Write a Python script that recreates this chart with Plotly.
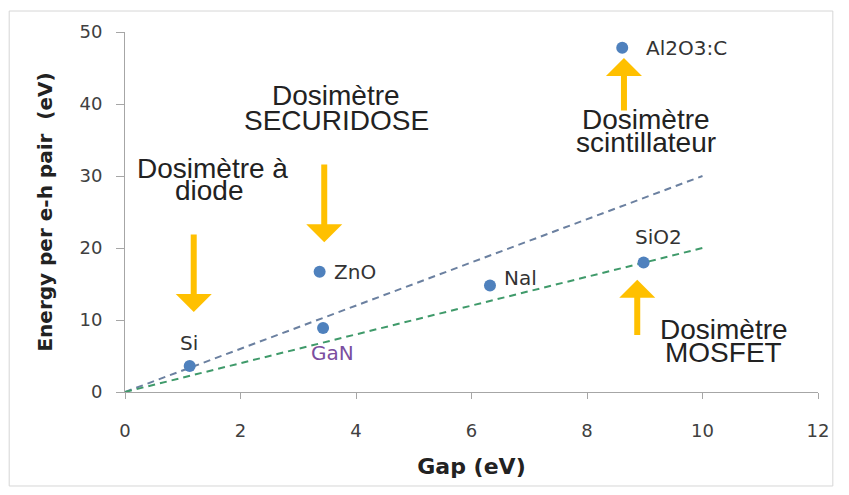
import plotly.graph_objects as go

# Data points (gap, energy per e-h pair)
materials = ["Si", "GaN", "ZnO", "NaI", "SiO2", "Al2O3:C"]
gap = [1.12, 3.43, 3.37, 6.32, 8.98, 8.61]
energy = [3.6, 8.9, 16.7, 14.8, 18.0, 47.8]

# Trend lines
trend_x = [0, 10]
trend_blue_y = [0, 30]
trend_green_y = [0, 20]

# Point labels
label_text = ["Si", "GaN", "ZnO", "Nal", "SiO2", "Al2O3:C"]
label_x = [1.11, 3.6, 3.99, 6.85, 9.23, 9.73]
label_y = [6.8, 5.4, 16.6, 15.9, 21.5, 47.8]
label_color = ["#333333", "#7b4ea0", "#333333", "#333333", "#333333", "#333333"]

# Dosimeter annotation lines
dosi_text = ["Dosimètre à", "diode",
             "Dosimètre", "SECURIDOSE",
             "Dosimètre", "scintillateur",
             "Dosimètre", "MOSFET"]
dosi_x = [1.51, 1.47, 3.65, 3.66, 9.03, 9.03, 10.37, 10.37]
dosi_y = [31.0, 28.0, 41.2, 37.7, 37.8, 34.7, 8.75, 5.5]

# Arrows (tail -> head)
arrow_tail_x = [1.19, 3.45, 8.64, 8.87]
arrow_tail_y = [22.1, 31.8, 38.9, 7.7]
arrow_head_x = [1.19, 3.45, 8.64, 8.87]
arrow_head_y = [11.1, 20.8, 46.4, 15.6]

x_ticks = [0, 2, 4, 6, 8, 10, 12]
y_ticks = [0, 10, 20, 30, 40, 50]

fig = go.Figure()
fig.add_trace(go.Scatter(x=trend_x, y=trend_blue_y, mode="lines",
                         line=dict(color="#6b80a0", width=2, dash="7px,5px"),
                         hoverinfo="skip"))
fig.add_trace(go.Scatter(x=trend_x, y=trend_green_y, mode="lines",
                         line=dict(color="#3f9a6a", width=2, dash="7px,5px"),
                         hoverinfo="skip"))
fig.add_trace(go.Scatter(x=gap, y=energy, mode="markers", text=materials,
                         marker=dict(color="#4f81bd", size=12)))

annotations = []
for t, x, y, c in zip(label_text, label_x, label_y, label_color):
    annotations.append(dict(x=x, y=y, text=t, showarrow=False,
                            font=dict(family="DejaVu Sans", size=20, color=c)))
for t, x, y in zip(dosi_text, dosi_x, dosi_y):
    annotations.append(dict(x=x, y=y, text=t, showarrow=False,
                            font=dict(family="Liberation Sans", size=28, color="#222222")))
for tx, ty, hx, hy in zip(arrow_tail_x, arrow_tail_y, arrow_head_x, arrow_head_y):
    annotations.append(dict(x=hx, y=hy, ax=tx, ay=ty, axref="x", ayref="y",
                            xref="x", yref="y", text="", showarrow=True,
                            arrowhead=1, arrowsize=1, arrowwidth=6,
                            arrowcolor="#FFC000", standoff=0, startstandoff=0))

fig.update_layout(
    width=833, height=479,
    margin=dict(l=117, r=16, t=24, b=95),
    paper_bgcolor="white", plot_bgcolor="white",
    showlegend=False,
    annotations=annotations,
    shapes=[dict(type="rect", xref="paper", yref="paper",
                 x0=-0.1671, x1=1.0214, y0=-0.2611, y1=1.0583,
                 line=dict(color="#d6d6d6", width=1))],
    xaxis=dict(range=[0, 12], tickvals=x_ticks, showgrid=False, zeroline=False,
               showline=True, linecolor="#a6a6a6", linewidth=1,
               ticks="outside", ticklen=6, tickcolor="#a6a6a6",
               ticklabelstandoff=16,
               tickfont=dict(family="DejaVu Sans", size=18, color="#404040"),
               title=dict(text="<b>Gap (eV)</b>", standoff=19,
                          font=dict(family="DejaVu Sans", size=22, color="#222222"))),
    yaxis=dict(range=[0, 50], tickvals=y_ticks, showgrid=False, zeroline=False,
               showline=True, linecolor="#a6a6a6", linewidth=1,
               ticks="outside", ticklen=8, tickcolor="#a6a6a6",
               ticklabelstandoff=10,
               tickfont=dict(family="DejaVu Sans", size=18, color="#404040"),
               title=dict(text="<b>Energy per e-h pair\u00a0 (eV)</b>", standoff=21,
                          font=dict(family="DejaVu Sans", size=20, color="#222222"))),
)

fig.write_html("out.html")
